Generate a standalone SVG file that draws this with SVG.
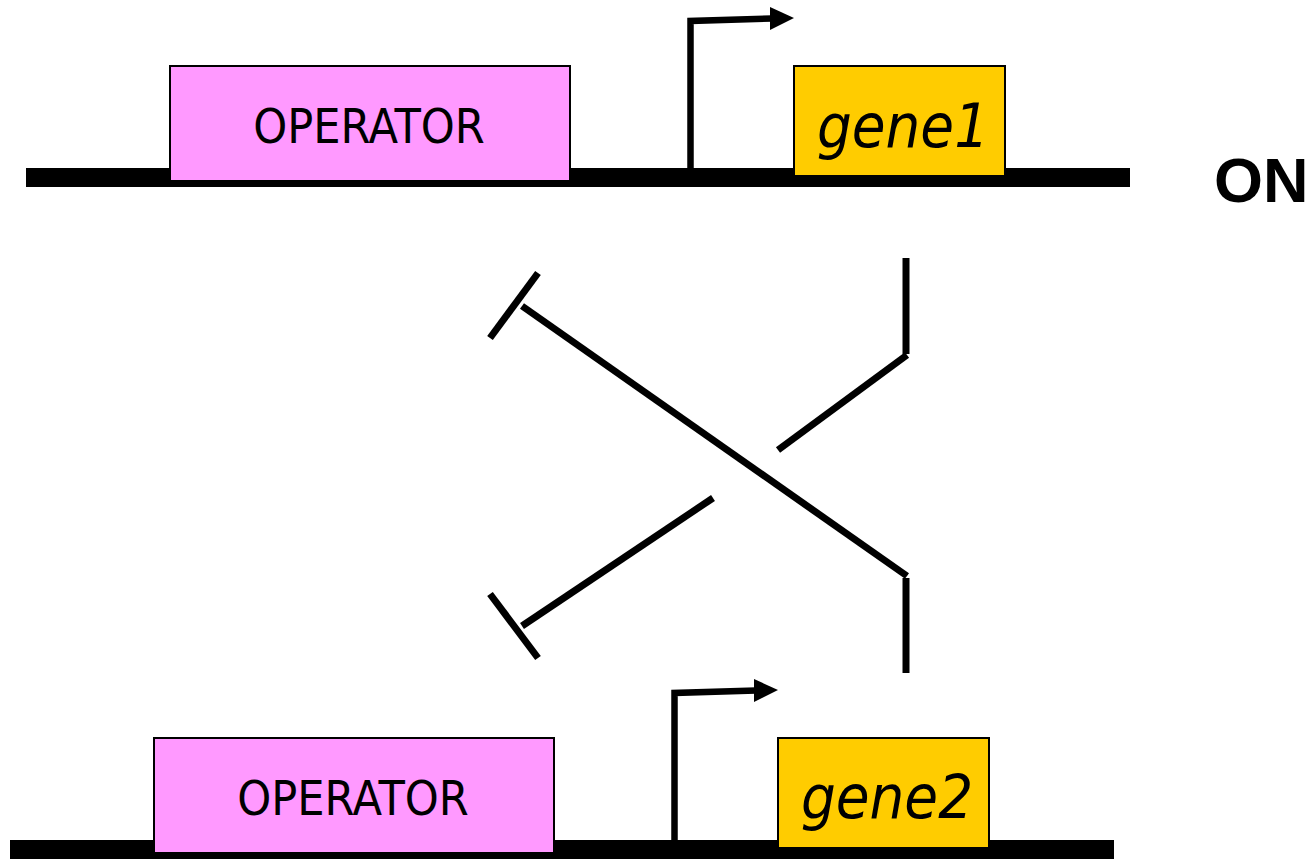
<svg xmlns="http://www.w3.org/2000/svg" width="1314" height="860" viewBox="0 0 1314 860">
<style>
.dna{fill:#000}
.op{fill:#FF99FF;stroke:#000;stroke-width:2}
.gene{fill:#FFCC00;stroke:#000;stroke-width:2}
.optxt{font-family:"DejaVu Sans Condensed","DejaVu Sans",sans-serif;font-size:48px;fill:#000;text-anchor:middle}
.gtxt{font-family:"DejaVu Sans Condensed","DejaVu Sans",sans-serif;font-style:italic;font-size:61px;fill:#000;text-anchor:middle}
.ln{stroke:#000;stroke-width:7;fill:none}
.prom{stroke:#000;stroke-width:6.5;fill:none;stroke-linejoin:miter}
</style>
<rect width="1314" height="860" fill="#fff"/>
<g id="dna1"><rect class="dna" x="26" y="168" width="1104" height="19"/></g>
<g id="dna2"><rect class="dna" x="10" y="840" width="1104" height="19"/></g>
<g id="operator1"><rect class="op" x="170" y="66" width="400" height="115"/><text class="optxt" x="369" y="143">OPERATOR</text></g>
<g id="gene1"><rect class="gene" x="794" y="66" width="211" height="110"/><text class="gtxt" x="903" y="147">gene1</text></g>
<g id="promoter1"><polyline class="prom" points="690.5,168 690.5,21 772,18.5"/><polygon points="770,7 794,18 770,30" fill="#000"/></g>
<g id="operator2"><rect class="op" x="154" y="738" width="400" height="115"/><text class="optxt" x="353" y="815">OPERATOR</text></g>
<g id="gene2"><rect class="gene" x="778" y="738" width="211" height="110"/><text class="gtxt" x="887" y="818">gene2</text></g>
<g id="promoter2"><polyline class="prom" points="674.5,840 674.5,693 756,690.5"/><polygon points="754,679 778,690 754,702" fill="#000"/></g>
<g id="state"><text x="1214" y="202" font-family="Liberation Sans, Arial, sans-serif" font-weight="bold" font-size="63" fill="#000">ON</text></g>
<g id="connectors">
<line class="ln" x1="906" y1="258" x2="906" y2="354"/>
<line class="ln" x1="907" y1="355" x2="778" y2="450"/>
<line class="ln" x1="713" y1="498" x2="522" y2="626"/>
<line class="ln" x1="490" y1="594" x2="538" y2="658"/>
<line class="ln" x1="906" y1="578" x2="906" y2="673"/>
<line class="ln" x1="907" y1="576" x2="522" y2="306"/>
<line class="ln" x1="538" y1="273" x2="490" y2="338"/>
</g>
</svg>
